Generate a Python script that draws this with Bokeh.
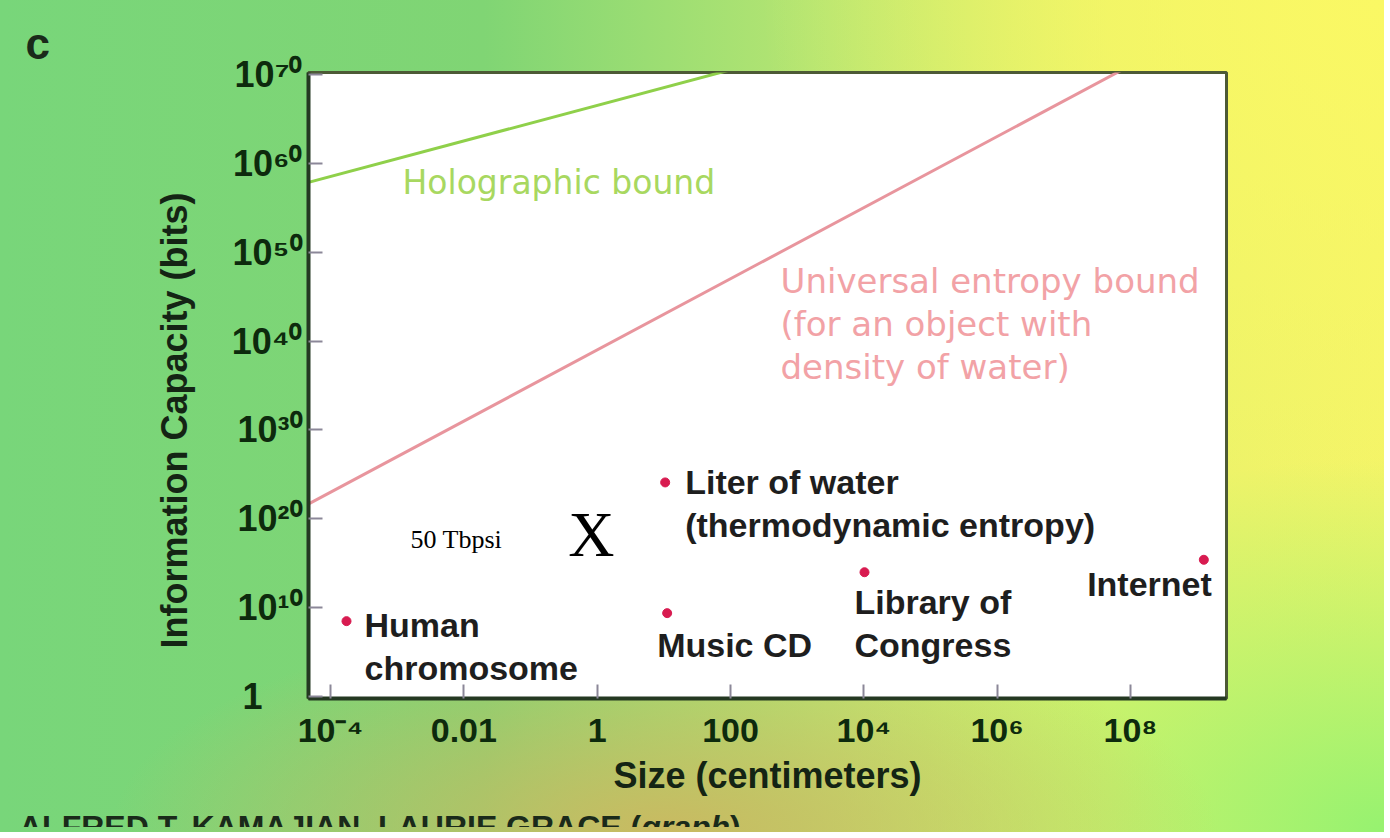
from bokeh.plotting import figure
from bokeh.models import FixedTicker, CustomJSTickFormatter, Label, ColumnDataSource, Div
from bokeh.layouts import column
from bokeh.core.properties import value
from bokeh.embed import file_html
from bokeh.resources import INLINE

# ---------------- data ----------------
x_tick_exps = [-4, -2, 0, 2, 4, 6, 8]
x_tick_labels = ["10\u207b\u2074", "0.01", "1", "100", "10\u2074", "10\u2076", "10\u2078"]
y_tick_exps = [0, 10, 20, 30, 40, 50, 60, 70]
y_tick_labels = ["1" + "\u00a0" * 4, "10\u00b9\u2070", "10\u00b2\u2070", "10\u00b3\u2070", "10\u2074\u2070",
                 "10\u2075\u2070", "10\u2076\u2070", "10\u2077\u2070"]

# Holographic bound (bits ~ size^2)
holo_size = [1e-5, 1e2]
holo_bits = [10 ** 56.5, 10 ** 70.5]
# Universal entropy bound (bits ~ size^4)
univ_size = [1e-5, 1e8]
univ_bits = [10 ** 19.0, 10 ** 71.0]

obj_names = ["Human\nchromosome", "Liter of water\n(thermodynamic entropy)",
             "Music CD", "Library of\nCongress", "Internet"]
obj_size = [10 ** -3.76, 10 ** 1.02, 10 ** 1.05, 10 ** 4.01, 10 ** 9.10]
obj_bits = [10 ** 8.5, 10 ** 24.1, 10 ** 9.4, 10 ** 14.0, 10 ** 15.4]

# label styling (screen offsets / alignment)
obj_xoff = [18, 20, -10, -10, 8]
obj_yoff = [-15, -19, 13, 11, 5]
obj_align = ["left", "left", "left", "left", "right"]

BOLD = "'Liberation Sans', Arial, sans-serif"
LIGHT = "'DejaVu Sans', sans-serif"
SERIF = "'Liberation Serif', 'Times New Roman', serif"
NBSP = "\u00a0"

W, H = 1374, 806
ML, MR, MT, MB = 308, 148, 72, 108

GRADIENT = ("radial-gradient(ellipse 40% 26% at 48% 100%, rgba(204,184,96,0.95), rgba(204,184,96,0)),"
            "radial-gradient(ellipse 40% 45% at 100% 100%, rgba(150,242,112,1), rgba(150,242,112,0)),"
            "radial-gradient(ellipse 45% 60% at 100% 0%, rgba(250,248,100,1), rgba(250,248,100,0)),"
            "linear-gradient(90deg, #78d67a 0%, #80d574 35%, #b8e672 60%, #e8f26a 80%, #f4f468 100%)")

p = figure(width=W, height=H, x_axis_type="log", y_axis_type="log",
           x_range=(10 ** -4.33, 10 ** 9.44), y_range=(10 ** -0.2, 10 ** 70.2),
           output_backend="svg", toolbar_location=None,
           min_border_left=ML, min_border_right=MR, min_border_top=MT, min_border_bottom=MB)

p.border_fill_color = None
p.background_fill_color = "white"
p.outline_line_color = "#4d5a36"
p.outline_line_width = 3
p.grid.visible = False

# panel letter as the figure title
p.title.text = "c"
p.title.text_font = BOLD
p.title.text_font_style = "bold"
p.title.text_font_size = "44px"
p.title.text_color = "#1a2a1a"
p.title.align = "left"
p.title.offset = 25 - ML
p.title.standoff = 10

# axes
p.xaxis.ticker = FixedTicker(ticks=[10.0 ** e for e in x_tick_exps], minor_ticks=[])
p.yaxis.ticker = FixedTicker(ticks=[10.0 ** e for e in y_tick_exps], minor_ticks=[])
fmt_code = "const e = Math.round(Math.log10(tick)); const i = exps.indexOf(e); return i >= 0 ? labels[i] : '';"
p.xaxis.formatter = CustomJSTickFormatter(args=dict(exps=x_tick_exps, labels=x_tick_labels), code=fmt_code)
p.yaxis.formatter = CustomJSTickFormatter(args=dict(exps=y_tick_exps, labels=y_tick_labels), code=fmt_code)

for ax in (p.xaxis, p.yaxis):
    ax.axis_line_color = "#243822"
    ax.axis_line_width = 4
    ax.major_tick_in = 14
    ax.major_tick_out = 0
    ax.major_tick_line_color = "#8b8798"
    ax.major_tick_line_width = 2
    ax.minor_tick_line_color = None
    ax.major_label_text_color = "#0d2a0d"
    ax.major_label_text_font = BOLD
    ax.major_label_text_font_style = "bold"
    ax.axis_label_text_color = "#142414"
    ax.axis_label_text_font = BOLD
    ax.axis_label_text_font_style = "bold"
    ax.axis_label_text_font_size = "36px"

p.xaxis.axis_label = "Size (centimeters)"
p.yaxis.axis_label = "Information Capacity (bits)" + NBSP * 7
p.xaxis.major_label_text_font_size = "34px"
p.yaxis.major_label_text_font_size = "36px"
p.xaxis.major_label_standoff = 12
p.yaxis.major_label_standoff = 6
p.xaxis.axis_label_standoff = 3
p.yaxis.axis_label_standoff = 34

# bound lines
p.line(holo_size, holo_bits, line_color="#8fd04a", line_width=3)
p.line(univ_size, univ_bits, line_color="#e8959d", line_width=3)

p.text(x=[10 ** -2.92], y=[10 ** 57.84], text=["Holographic bound"],
       text_font=value(LIGHT), text_font_size="33px", text_color="#a8d860",
       text_baseline="middle", text_align="left")
p.text(x=[10 ** 2.75], y=[10 ** 41.87],
       text=["Universal entropy bound\n(for an object with\ndensity of water)"],
       text_font=value(LIGHT), text_font_size="34px", text_color="#f2a2a6",
       text_baseline="middle", text_align="left", text_line_height=1.075)

# objects
src = ColumnDataSource(dict(x=obj_size, y=obj_bits, name=obj_names,
                            xo=obj_xoff, yo=obj_yoff, al=obj_align))
p.scatter("x", "y", source=src, size=9, color="#d81b50")
p.text("x", "y", text="name", source=src, x_offset="xo", y_offset="yo", text_align="al",
       text_baseline="top", text_font=value(BOLD), text_font_style="bold",
       text_font_size="34px", text_color="#1e1e1e", text_line_height=1.12)

# extra annotations inside the chart
p.add_layout(Label(x=10 ** -2.80, y=10 ** 17.67, text="50 Tbpsi", text_font=SERIF,
                   text_font_size="26px", text_color="black", text_baseline="alphabetic"))
p.add_layout(Label(x=10 ** -0.087, y=10 ** 18.24, text="X", text_font=SERIF,
                   text_font_size="64px", text_color="black", text_align="center",
                   text_baseline="alphabetic"))

# credit line (cut off by the bottom of the picture, as in the original)
credit = Div(text="ALFRED T. KAMAJIAN, LAURIE GRACE (<i>graph</i>)", width=W, height=16,
             styles={"font-family": BOLD, "font-weight": "bold", "font-size": "32px",
                     "line-height": "32px", "color": "#1a2a1a", "overflow": "hidden",
                     "white-space": "nowrap", "padding-left": "14px", "box-sizing": "border-box"})

page = column(p, credit, spacing=0, styles={"background": GRADIENT})

open("out.html", "w").write(file_html(page, INLINE))
